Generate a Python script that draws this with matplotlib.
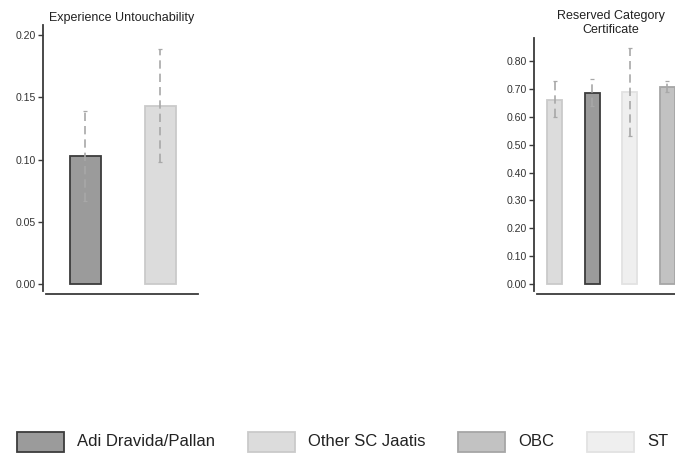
import matplotlib
matplotlib.use("Agg")
import matplotlib.pyplot as plt
from matplotlib.patches import Rectangle

plt.rcParams['font.family'] = ['Liberation Sans', 'DejaVu Sans']

# Data
left_title = "Experience Untouchability"
left_groups = ["Adi Dravida/Pallan", "Other SC Jaatis"]
left_values = [0.103, 0.143]
left_lo = [0.067, 0.098]
left_hi = [0.139, 0.189]
left_ticks = [0.00, 0.05, 0.10, 0.15, 0.20]

right_title = "Reserved Category\nCertificate"
right_groups = ["Other SC Jaatis", "Adi Dravida/Pallan", "ST", "OBC"]
right_values = [0.660, 0.685, 0.688, 0.705]
right_lo = [0.600, 0.640, 0.530, 0.690]
right_hi = [0.728, 0.735, 0.845, 0.730]
right_ticks = [0.00, 0.10, 0.20, 0.30, 0.40, 0.50, 0.60, 0.70, 0.80]

legend_labels = ["Adi Dravida/Pallan", "Other SC Jaatis", "OBC", "ST"]

face = {"Adi Dravida/Pallan": "#9b9b9b", "Other SC Jaatis": "#dcdcdc",
        "OBC": "#c2c2c2", "ST": "#efefef"}
edge = {"Adi Dravida/Pallan": "#3c3c3c", "Other SC Jaatis": "#cacaca",
        "OBC": "#a6a6a6", "ST": "#e2e2e2"}

W, H = 675, 453
fig = plt.figure(figsize=(W / 100, H / 100), dpi=100)


def px_axes(x0, x1, y0, y1):
    return fig.add_axes([x0 / W, 1 - y1 / H, (x1 - x0) / W, (y1 - y0) / H])


def style(ax, ticks, fmt):
    for s in ["top", "right"]:
        ax.spines[s].set_visible(False)
    for s in ["left", "bottom"]:
        ax.spines[s].set_color("#3a3a3a")
        ax.spines[s].set_linewidth(1.3)
    ax.spines["bottom"].set_position(("outward", 2))
    ax.spines["left"].set_position(("outward", 2))
    ax.set_yticks(ticks)
    ax.set_yticklabels([fmt.format(t) for t in ticks], fontsize=7.6, color="#333333")
    ax.tick_params(axis="y", length=3.5, width=1.0, color="#3a3a3a", pad=2)
    ax.set_xticks([])


def draw(ax, groups, vals, lo, hi, width):
    xs = list(range(len(groups)))
    for x, g, v in zip(xs, groups, vals):
        ax.bar(x, v, width=width, color=face[g], edgecolor=edge[g], linewidth=1.3)
    yerr = [[v - l for v, l in zip(vals, lo)], [h - v for v, h in zip(vals, hi)]]
    eb = ax.errorbar(xs, vals, yerr=yerr, fmt="none", ecolor="#a8a8a8",
                     elinewidth=1.2, capsize=1.5, capthick=0.9)
    eb[2][0].set_linestyle((0, (5, 3)))


# Left panel
axL = px_axes(46, 198, 25, 291)
draw(axL, left_groups, left_values, left_lo, left_hi, 0.41)
axL.set_xlim(-0.52, 1.5)
axL.set_ylim(-0.0055, 0.208)
style(axL, left_ticks, "{:.2f}")
fig.text(122 / W, 1 - 17.5 / H, left_title, ha="center", va="center", fontsize=9.0, color="#222222")

# Right panel (extends past the figure edge)
axR = px_axes(537, 700, 38, 291)
draw(axR, right_groups, right_values, right_lo, right_hi, 0.41)
axR.set_xlim(-0.47, 3.87)
axR.set_ylim(-0.025, 0.8825)
style(axR, right_ticks, "{:.2f}")
fig.text(610.5 / W, 1 - 23 / H, right_title, ha="center", va="center", fontsize=9.0,
         color="#222222", linespacing=1.2)

# Legend
leg_x = [17, 248, 458, 587]
for x, lab in zip(leg_x, legend_labels):
    r = Rectangle((x / W, 1 - 452 / H), 47 / W, 20 / H, transform=fig.transFigure,
                  facecolor=face[lab], edgecolor=edge[lab], linewidth=1.3)
    fig.patches.append(r)
    fig.text((x + 60) / W, 1 - 442 / H, lab, ha="left", va="center", fontsize=12,
             color="#222222")

fig.savefig("out.png", dpi=100)
